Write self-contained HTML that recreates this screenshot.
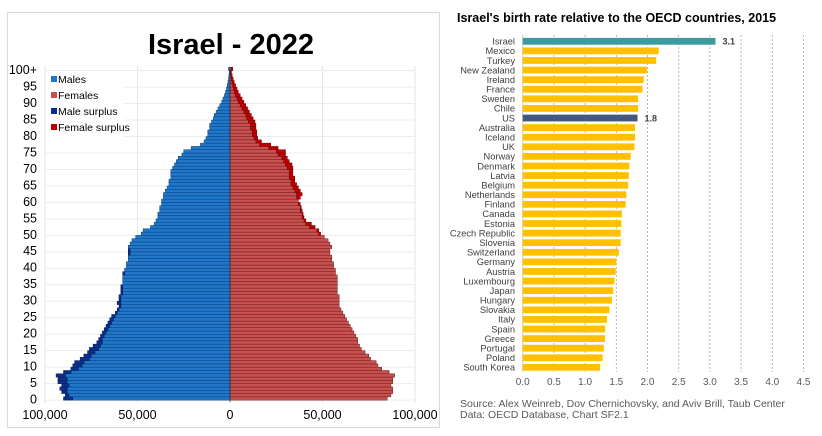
<!DOCTYPE html>
<html><head><meta charset="utf-8">
<style>
html,body{margin:0;padding:0;background:#fff;}
body{width:822px;height:436px;overflow:hidden;font-family:"Liberation Sans",Arial,sans-serif;}
svg{display:block;}
</style></head>
<body>
<svg id="chart" width="822" height="436" viewBox="0 0 822 436" xmlns="http://www.w3.org/2000/svg">
  <rect x="7.5" y="12.5" width="432" height="415" fill="#fff" stroke="#d9d9d9"/>
  <text x="231" y="54" text-anchor="middle" font-size="29" font-weight="bold" fill="#000">Israel - 2022</text>
  <g id="pyr"></g>
  <g id="bar"></g>
  <text x="457" y="22" font-size="12.5" font-weight="bold" fill="#000">Israel's birth rate relative to the OECD countries, 2015</text>
  <text x="460" y="407" font-size="10.5" fill="#595959">Source: Alex Weinreb, Dov Chernichovsky, and Aviv Brill, Taub Center</text>
  <text x="460" y="418" font-size="10.5" fill="#595959">Data: OECD Database, Chart SF2.1</text>
</svg>
<script>
const maleValues = [90,89,91,92,91,93,93,94,90,86,85,84,81,79,77,76,74,72,71,70,69,68,67,66,65,64,62,61,60,61,60,60,59,59,59,58,58,58,58,57,56,56,55,55,55,55,55,54,53,51,48,47,43,41,40,39,39,38,38,37,37,36,36,35,34,33,33,32,32,32,31,30,29,28,26,25,21,16,14,13,12,12,11,11,10,9,8.5,7.5,6.5,5.5,4.5,3.8,3,2.4,1.9,1.5,1.1,0.8,0.6,0.4,0.8];
const femaleValues = [85,87,88,88,87,88,88,89,86,82,80,79,76,75,73,71,70,69,69,68,67,66,65,64,63,62,61,60,59,59,59,59,58,58,58,58,58,58,57,57,56,56,55,55,54,54,55,54,53,51,49,48,46,44,41,40,39.5,39,38.5,38,37,38,39,38,37,36,35,35,34,34,34,33.5,32,31,30,30,26,22,17,15,14.5,14.5,14,14,13.5,12.5,11.5,10.5,9.5,8.5,7.5,6.5,5.5,4.5,3.8,3,2.3,1.7,1.2,0.8,1.5];
const ageTicks = ["0","5","10","15","20","25","30","35","40","45","50","55","60","65","70","75","80","85","90","95","100+"];
const popTicks = [-100,-50,0,50,100];
const popTickLabels = ["100,000","50,000","0","50,000","100,000"];

const countries = ["Israel","Mexico","Turkey","New Zealand","Ireland","France","Sweden","Chile","US","Australia","Iceland","UK","Norway","Denmark","Latvia","Belgium","Netherlands","Finland","Canada","Estonia","Czech Republic","Slovenia","Switzerland","Germany","Austria","Luxembourg","Japan","Hungary","Slovakia","Italy","Spain","Greece","Portugal","Poland","South Korea"];
const birthRates = [3.09,2.18,2.14,1.99,1.94,1.92,1.85,1.85,1.84,1.80,1.80,1.79,1.73,1.71,1.70,1.69,1.66,1.65,1.59,1.58,1.57,1.57,1.54,1.50,1.49,1.47,1.45,1.43,1.39,1.35,1.32,1.32,1.30,1.28,1.24];
const valueLabels = {"Israel":"3.1","US":"1.8"};
const rateTicks = ["0.0","0.5","1.0","1.5","2.0","2.5","3.0","3.5","4.0","4.5"];

const NS="http://www.w3.org/2000/svg";
function mk(tag,attrs,parent){const e=document.createElementNS(NS,tag);for(const k in attrs)e.setAttribute(k,attrs[k]);parent.appendChild(e);return e;}

// ---- Pyramid ----
const pyr=document.getElementById('pyr');
const px=v=>230+v*1.85;           // thousands -> x
const ageY=a=>398.5-a*3.295;      // age -> center y
const bh=3.3;
// gridlines
popTicks.forEach((t,i)=>{
  const g=mk('line',{x1:px(t),x2:px(t),y1:66,y2:403,stroke:'#e6e6e6','stroke-width':1},pyr);
  
  
  const l=mk('text',{x:px(t),y:419,'text-anchor':'middle','font-size':12.5,fill:'#000'},pyr);
  l.textContent=popTickLabels[i];
  
  
});
ageTicks.forEach((t,i)=>{
  const y=ageY(i*5)+1.6;
  const g=mk('line',{x1:45,x2:415,y1:y,y2:y,stroke:'#ececec','stroke-width':1},pyr);
  
  
  const l=mk('text',{x:37,y:ageY(i*5)+5,'text-anchor':'end','font-size':12.5,fill:'#000'},pyr);
  l.textContent=t;
  
  
});
for(let a=0;a<maleValues.length;a++){
  const m=maleValues[a],f=femaleValues[a],base=Math.min(m,f);
  const y=ageY(a)-bh/2;
  const mb=mk('rect',{x:px(-base),y:y,width:base*1.85,height:bh,fill:'#1f77c9',stroke:'#0d3f7a','stroke-width':0.5},pyr);
  
  
  const fb=mk('rect',{x:px(0),y:y,width:base*1.85,height:bh,fill:'#c8504f',stroke:'#6e1f1f','stroke-width':0.5},pyr);
  
  
  if(m>f){
    const s=mk('rect',{x:px(-m),y:y,width:(m-f)*1.85,height:bh,fill:'#0a2f8f',stroke:'#061c55','stroke-width':0.5},pyr);
    
    
  } else if(f>m){
    const s=mk('rect',{x:px(m),y:y,width:(f-m)*1.85,height:bh,fill:'#c00000',stroke:'#700000','stroke-width':0.5},pyr);
    
    
  }
}
mk('line',{x1:230,x2:230,y1:67,y2:402,stroke:'#333','stroke-width':0.8},pyr);
// legend
const leg=mk('g',{},pyr);


mk('rect',{x:46,y:72,width:78,height:66,fill:'#fff'},leg);
[["Males","#1f77c9"],["Females","#c8504f"],["Male surplus","#0a2f8f"],["Female surplus","#c00000"]].forEach((e,i)=>{
  const g=mk('g',{},leg);
  
  
  mk('rect',{x:51,y:76+i*16,width:6,height:6,fill:e[1]},g);
  const t=mk('text',{x:58,y:83+i*16,'font-size':10.5,fill:'#000'},g);
  t.textContent=e[0];
});

// ---- Birth rate bars ----
const bar=document.getElementById('bar');
const bx=v=>522.7+v*62.4;
const by=i=>41.3+i*9.59;
rateTicks.forEach((t,i)=>{
  const v=parseFloat(t);
  if(i>0){
    const g=mk('line',{x1:bx(v),x2:bx(v),y1:35,y2:372,stroke:'#a6a6a6','stroke-width':0.8,'stroke-dasharray':'2,2'},bar);
    
    
  }
  const l=mk('text',{x:bx(v),y:385,'text-anchor':'middle','font-size':10,fill:'#595959'},bar);
  l.textContent=t;
  
  
});
mk('line',{x1:bx(0),x2:bx(0),y1:35,y2:372,stroke:'#bfbfbf','stroke-width':0.8},bar);
countries.forEach((c,i)=>{
  const v=birthRates[i];
  const col=c==="Israel"?"#3a9c9c":(c==="US"?"#44587f":"#ffc000");
  const r=mk('rect',{x:bx(0),y:by(i)-3.4,width:bx(v)-bx(0),height:6.8,fill:col},bar);
  
  
  const l=mk('text',{x:515,y:by(i)+3.3,'text-anchor':'end','font-size':9.3,fill:'#404040'},bar);
  l.textContent=c;
  
  
  if(valueLabels[c]){
    const vl=mk('text',{x:bx(v)+7,y:by(i)+3.3,'font-size':9,'font-weight':'bold',fill:'#404040'},bar);
    vl.textContent=valueLabels[c];
    
    
  }
});
</script>
</body></html>
